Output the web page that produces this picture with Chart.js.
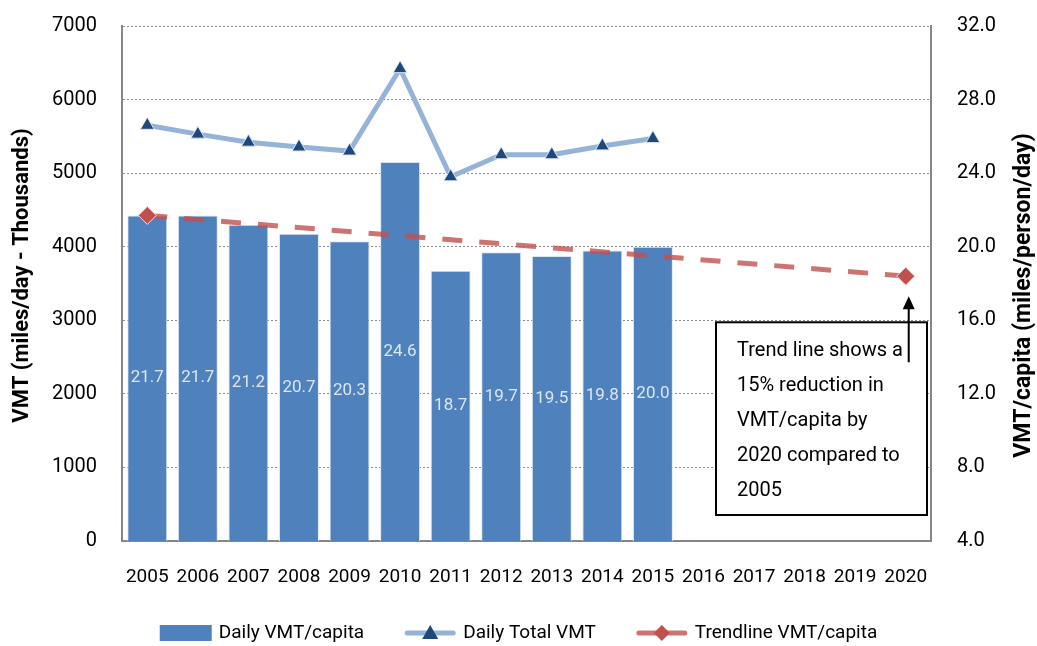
<!DOCTYPE html>
<html>
<head>
<meta charset="utf-8">
<script src="https://cdn.jsdelivr.net/npm/chart.js@4.4.1/dist/chart.umd.min.js"></script>
<style>
  body { margin: 0; background: #fff; }
  #wrap { width: 1037px; height: 646px; }
</style>
</head>
<body>
<div id="wrap"><canvas id="vmtChart"></canvas></div>
<script>
const years = ['2005', '2006', '2007', '2008', '2009', '2010', '2011', '2012', '2013', '2014', '2015', '2016', '2017', '2018', '2019', '2020'];
const vmtPerCapita = [21.7, 21.7, 21.2, 20.7, 20.3, 24.6, 18.7, 19.7, 19.5, 19.8, 20.0, null, null, null, null, null];
const totalVmt = [5650, 5530, 5420, 5355, 5300, 6420, 4950, 5250, 5250, 5370, 5470, null, null, null, null, null];
const trendVmt = [21.7, null, null, null, null, null, null, null, null, null, null, null, null, null, null, 18.4];
const leftTicks = [0, 1000, 2000, 3000, 4000, 5000, 6000, 7000];
const rightTicks = [4, 8, 12, 16, 20, 24, 28, 32];
const leftTitle = 'VMT (miles/day - Thousands)';
const rightTitle = 'VMT/capita (miles/person/day)';
const noteLines = ['Trend line shows a', '15% reduction in', 'VMT/capita by', '2020 compared to', '2005'];

const FONT = 'Roboto, "Liberation Sans", sans-serif';

// etiquetas dentro de las barras (centradas en la parte visible)
const barLabels = {
    id: 'barLabels',
    afterDatasetsDraw(chart) {
        const meta = chart.getDatasetMeta(2);
        const ctx = chart.ctx;
        const bottom = chart.chartArea.bottom;
        ctx.save();
        ctx.font = '17px ' + FONT;
        ctx.fillStyle = '#dce6f2';
        ctx.textAlign = 'center';
        ctx.textBaseline = 'middle';
        meta.data.forEach((bar, i) => {
            const v = vmtPerCapita[i];
            if (v == null) return;
            ctx.fillText(v.toFixed(1), bar.x, (bar.y + Math.min(bar.base, bottom)) / 2);
        });
        ctx.restore();
    }
};

// títulos de ejes, ambos girados hacia arriba como en Excel
const axisTitles = {
    id: 'axisTitles',
    afterDraw(chart) {
        const { ctx, chartArea } = chart;
        const mid = (chartArea.top + chartArea.bottom) / 2;
        ctx.save();
        ctx.fillStyle = '#000';
        ctx.textAlign = 'center';
        ctx.textBaseline = 'middle';
        [[22, mid - 8, leftTitle, 22], [chart.width - 13, mid + 12, rightTitle, 23]].forEach(([tx, ty, t, fs]) => {
            ctx.save();
            ctx.font = 'bold ' + fs + 'px ' + FONT;
            ctx.translate(tx, ty);
            ctx.rotate(-Math.PI / 2);
            ctx.fillText(t, 0, 0);
            ctx.restore();
        });
        ctx.restore();
    }
};

// caja de nota + flecha
const noteBox = {
    id: 'noteBox',
    afterDraw(chart) {
        const { ctx, chartArea } = chart;
        const x = chart.scales.x, y1 = chart.scales.y1;
        const left = chartArea.right - 215;
        const right = chartArea.right - 4;
        const top = y1.getPixelForValue(16) + 2;
        const bottom = chartArea.bottom - 26;
        ctx.save();
        ctx.fillStyle = '#fff';
        ctx.fillRect(left, top, right - left, bottom - top);
        ctx.strokeStyle = '#000';
        ctx.lineWidth = 2;
        ctx.strokeRect(left, top, right - left, bottom - top);
        ctx.font = '20px ' + FONT;
        ctx.fillStyle = '#000';
        ctx.textBaseline = 'middle';
        noteLines.forEach((t, i) => ctx.fillText(t, left + 21, top + 29 + i * 35));
        // flecha
        const ax = x.getPixelForValue(15) + 3;
        const ayTop = y1.getPixelForValue(trendVmt[15]) + 20;
        const ayBot = top + 40;
        ctx.beginPath();
        ctx.moveTo(ax, ayBot);
        ctx.lineTo(ax, ayTop + 10);
        ctx.stroke();
        ctx.beginPath();
        ctx.moveTo(ax, ayTop);
        ctx.lineTo(ax - 6, ayTop + 13);
        ctx.lineTo(ax + 6, ayTop + 13);
        ctx.closePath();
        ctx.fill();
        ctx.restore();
    }
};

// leyenda dibujada a mano (línea con marcador)
const customLegend = {
    id: 'customLegend',
    afterDraw(chart) {
        const ctx = chart.ctx;
        const cy = 633;
        ctx.save();
        ctx.font = '19px ' + FONT;
        ctx.textBaseline = 'middle';
        const items = [chart.data.datasets[2], chart.data.datasets[0], chart.data.datasets[1]];
        const symW = 52, gap = 7, itemGap = 40;
        const widths = items.map(d => symW + gap + ctx.measureText(d.label).width);
        const total = widths.reduce((a, b) => a + b, 0) + itemGap * (items.length - 1);
        let x = (chart.width - total) / 2;
        items.forEach((d, i) => {
            if (d.type === 'bar') {
                ctx.fillStyle = d.backgroundColor;
                ctx.fillRect(x, cy - 8, symW, 16);
            } else {
                ctx.strokeStyle = d.borderColor;
                ctx.lineWidth = 5;
                ctx.lineCap = 'round';
                ctx.beginPath();
                ctx.moveTo(x + 3, cy);
                ctx.lineTo(x + symW - 3, cy);
                ctx.stroke();
                const mx = x + symW / 2;
                ctx.fillStyle = d.pointBackgroundColor;
                ctx.beginPath();
                if (d.pointStyle === 'triangle') {
                    ctx.moveTo(mx, cy - 8);
                    ctx.lineTo(mx + 8, cy + 6);
                    ctx.lineTo(mx - 8, cy + 6);
                } else {
                    ctx.moveTo(mx, cy - 8);
                    ctx.lineTo(mx + 8, cy);
                    ctx.lineTo(mx, cy + 8);
                    ctx.lineTo(mx - 8, cy);
                }
                ctx.closePath();
                ctx.fill();
            }
            ctx.fillStyle = '#000';
            ctx.fillText(d.label, x + symW + gap, cy);
            x += widths[i] + itemGap;
        });
        ctx.restore();
    }
};

// el padding de las etiquetas no debe empujar el área del gráfico
const fitY = w => s => { s.width = w; s.paddingTop = 0; s.paddingBottom = 0; };

document.addEventListener('DOMContentLoaded', () => {
    const ctx = document.getElementById('vmtChart').getContext('2d');
    new Chart(ctx, {
        data: {
            labels: years,
            datasets: [{
                type: 'line',
                label: 'Daily Total VMT',
                data: totalVmt,
                yAxisID: 'y',
                borderColor: '#95b3d7',
                borderWidth: 5,
                pointStyle: 'triangle',
                pointRadius: 8,
                pointBackgroundColor: '#1f497d',
                pointBorderColor: '#dce6f2',
                pointBorderWidth: 1,
                tension: 0,
                order: 1
            }, {
                type: 'line',
                label: 'Trendline VMT/capita',
                data: trendVmt,
                yAxisID: 'y1',
                spanGaps: true,
                borderColor: 'rgba(192,80,77,0.8)',
                borderWidth: 5,
                borderDash: [20, 17],
                pointStyle: 'rectRot',
                pointRadius: 9,
                pointBackgroundColor: '#c0504d',
                pointBorderColor: '#f2dcdb',
                pointBorderWidth: 1,
                order: 2
            }, {
                type: 'bar',
                label: 'Daily VMT/capita',
                data: vmtPerCapita,
                yAxisID: 'y1',
                backgroundColor: '#4f81bd',
                borderColor: '#dce6f2',
                borderWidth: 1,
                categoryPercentage: 1,
                barPercentage: 0.79,
                order: 3
            }]
        },
        options: {
            responsive: true,
            maintainAspectRatio: false,
            animation: false,
            layout: { padding: { top: 26, bottom: 45, left: 0, right: 0 } },
            plugins: { legend: { display: false }, tooltip: { enabled: false } },
            scales: {
                x: {
                    grid: { display: false, drawTicks: false },
                    border: { display: true, color: '#868686', width: 2 },
                    ticks: { color: '#000', font: { family: FONT, size: 19 }, padding: 25, autoSkip: false, maxRotation: 0 },
                    afterFit: s => { s.height = 60; }
                },
                y: {
                    position: 'left',
                    min: 0, max: 7000,
                    afterBuildTicks: s => { s.ticks = leftTicks.map(v => ({ value: v })); },
                    grid: { color: '#8c8c8c', lineWidth: 1, drawTicks: false },
                    border: { display: true, color: '#868686', width: 2, dash: [2, 2] },
                    ticks: { color: '#000', font: { family: FONT, size: 20 }, padding: 25, callback: v => String(v) },
                    afterFit: fitY(122)
                },
                y1: {
                    position: 'right',
                    min: 4, max: 32,
                    afterBuildTicks: s => { s.ticks = rightTicks.map(v => ({ value: v })); },
                    grid: { display: false, drawTicks: false },
                    border: { display: true, color: '#868686', width: 2 },
                    ticks: { color: '#000', font: { family: FONT, size: 20 }, padding: 26, callback: v => Number(v).toFixed(1) },
                    afterFit: fitY(106)
                }
            }
        },
        plugins: [barLabels, axisTitles, noteBox, customLegend]
    });
});
</script>
</body>
</html>
